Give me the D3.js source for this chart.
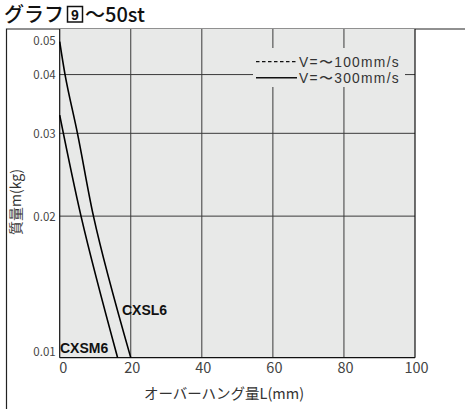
<!DOCTYPE html>
<html><head><meta charset="utf-8">
<script src="https://cdn.jsdelivr.net/npm/d3@7"></script>
<style>
html,body{margin:0;padding:0;background:#fff;}
text{font-family:"Noto Sans CJK JP","Noto Sans",sans-serif;}
</style></head>
<body>
<svg id="c" width="465" height="409"></svg>
<script>
const xTicks = [0, 20, 40, 60, 80, 100];
const yTicks = [0.01, 0.02, 0.03, 0.04, 0.05];
const yTickLabels = ["0.01", "0.02", "0.03", "0.04", "0.05"];
const cxsl6L = [0, 1.5, 5.0, 9.5, 20];
const cxsl6M = [0.047, 0.040, 0.030, 0.020, 0.010];
const cxsm6L = [0, 6.0, 16.3];
const cxsm6M = [0.0328, 0.020, 0.010];
const seriesNames = ["CXSL6", "CXSM6"];
const legendLabels = ["V=〜100mm/s", "V=〜300mm/s"];

(function(){
const svg = d3.select("#c");
const pL = 59.7, pR = 415, pT = 29, pB = 357.7;
const x = d3.scaleLinear().domain([0, 100]).range([pL, pR]);
const y = d3.scaleLog().domain([0.01, 0.05]).range([pB, pT]);

// outer frame
svg.append("path").attr("d", `M6.5,409 V${pT} H465`).attr("fill","none").attr("stroke","#222").attr("stroke-width",1.2);

// plot bg
svg.append("rect").attr("x", pL).attr("y", pT).attr("width", pR-pL).attr("height", pB-pT).attr("fill", "#e8e9e8");

// grid
const g = svg.append("g");
g.selectAll(".vg").data(xTicks.filter(d => d > 0 && d < 100)).enter().append("line")
  .attr("x1", d => x(d)).attr("x2", d => x(d)).attr("y1", pT).attr("y2", pB)
  .attr("stroke", "#3a3a3a").attr("stroke-width", 1);
g.selectAll(".hg").data(yTicks.filter(d => d > 0.01 && d < 0.05)).enter().append("line")
  .attr("x1", pL).attr("x2", pR).attr("y1", d => y(d)).attr("y2", d => y(d))
  .attr("stroke", "#3a3a3a").attr("stroke-width", 1);

// legend box
const lg = svg.append("g");
lg.append("rect").attr("x", 253).attr("y", 48).attr("width", 152).attr("height", 39).attr("fill", "#e8e9e8");
[0,1].forEach(i => {
  const yy = 61.7 + i*16;
  lg.append("line").attr("x1", 256).attr("x2", 297).attr("y1", yy).attr("y2", yy)
    .attr("stroke", "#111").attr("stroke-width", i === 0 ? 1.3 : 1.6)
    .attr("stroke-dasharray", i === 0 ? "3.5,2.5" : null);
  lg.append("text").attr("x", 299).attr("y", yy + 5).attr("font-size", 13.8).attr("fill", "#333")
    .style("font-family", "'Liberation Sans',Arial,sans-serif").attr("letter-spacing", 1.3)
    .text(legendLabels[i]);
});

// borders
svg.append("line").attr("x1", pL).attr("x2", pL).attr("y1", pT).attr("y2", pB).attr("stroke", "#111").attr("stroke-width", 1.2);
svg.append("line").attr("x1", pL).attr("x2", pR).attr("y1", pB).attr("y2", pB).attr("stroke", "#111").attr("stroke-width", 1.2);
svg.append("line").attr("x1", pR).attr("x2", pR).attr("y1", pT).attr("y2", pB).attr("stroke", "#111").attr("stroke-width", 1.2);

// series lines
const line = d3.line().x(d => x(d[0])).y(d => y(d[1])).curve(d3.curveMonotoneY);
const s1 = cxsl6L.map((l, i) => [l, cxsl6M[i]]);
const s2 = cxsm6L.map((l, i) => [l, cxsm6M[i]]);
[s1, s2].forEach(s => {
  svg.append("path").attr("d", line(s)).attr("fill", "none").attr("stroke", "#000").attr("stroke-width", 1.6);
});

// series labels
svg.append("text").attr("x", 122).attr("y", 315).attr("font-size", 14).attr("font-weight", "bold")
  .style("font-family", "'Liberation Sans',Arial,sans-serif").attr("fill", "#111").text(seriesNames[0]);
svg.append("text").attr("x", 60).attr("y", 353).attr("font-size", 14).attr("font-weight", "bold")
  .style("font-family", "'Liberation Sans',Arial,sans-serif").attr("fill", "#111").text(seriesNames[1]);

// x axis labels
const xa = svg.append("g").attr("transform", `translate(0,${pB})`)
  .call(d3.axisBottom(x).tickValues(xTicks).tickSize(0).tickPadding(6));
xa.select(".domain").remove();
xa.selectAll("text").attr("font-size", 14.5).attr("fill", "#444").style("font-family", "'Noto Sans CJK JP',sans-serif").attr("dy", "0.65em")
  .attr("dx", d => d === 0 ? 3 : 1);

// y axis labels
const ya = svg.append("g").attr("transform", `translate(${pL},0)`)
  .call(d3.axisLeft(y).tickValues(yTicks).tickFormat((d, i) => yTickLabels[i]).tickSize(0).tickPadding(4));
ya.select(".domain").remove();
ya.selectAll("text").attr("font-size", 11.5).attr("fill", "#444").style("font-family", "'Noto Sans CJK JP',sans-serif")
  .attr("dy", d => d === 0.01 ? "-0.15em" : d === 0.05 ? "1.35em" : "0.35em");

// axis titles
svg.append("text").attr("x", 224).attr("y", 399).attr("text-anchor", "middle").attr("font-size", 14.5).attr("fill", "#333")
  .text("オーバーハング量L(mm)");
svg.append("text").attr("transform", "translate(21,202) rotate(-90)").attr("text-anchor", "middle").attr("font-size", 14).attr("fill", "#333")
  .text("質量m(kg)");

// title
const t = svg.append("g");
t.append("text").attr("x", 4).attr("y", 22).attr("font-size", 20).attr("font-weight", 500).attr("fill", "#111").text("グラフ");
t.append("rect").attr("x", 67.5).attr("y", 6.5).attr("width", 15).attr("height", 15.5).attr("fill", "none").attr("stroke", "#111").attr("stroke-width", 1.5);
t.append("text").attr("x", 75).attr("y", 19.5).attr("text-anchor", "middle").attr("font-size", 14).attr("font-weight", "bold")
  .style("font-family", "'Liberation Sans',Arial,sans-serif").attr("fill", "#111").text("9");
t.append("text").attr("x", 85).attr("y", 22).attr("font-size", 20).attr("font-weight", 500).attr("fill", "#111").text("〜50st");
})();
</script>
</body></html>
